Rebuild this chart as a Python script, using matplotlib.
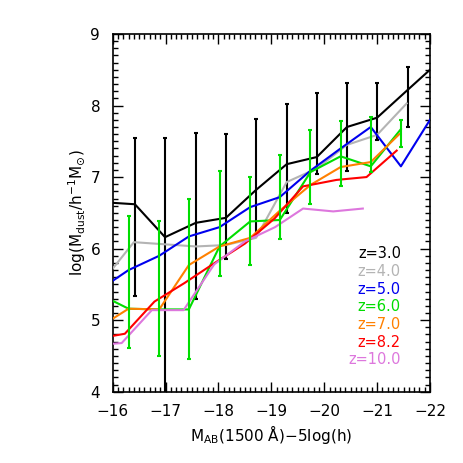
import matplotlib
matplotlib.use("Agg")
import matplotlib.pyplot as plt
import numpy as np
from matplotlib.ticker import MultipleLocator

plt.rcParams['font.family'] = ['DejaVu Sans']
plt.rcParams['mathtext.default'] = 'regular'

# z=3.0 (black) with error bars
x_z3 = [-16.0, -16.42, -16.99, -17.57, -18.14, -18.71, -19.29, -19.86, -20.43, -21.0, -21.58, -22.0]
y_z3 = [6.64, 6.62, 6.16, 6.36, 6.43, 6.82, 7.18, 7.28, 7.70, 7.83, 8.22, 8.50]
err_x_z3 = [-16.42, -16.99, -17.57, -18.14, -18.71, -19.29, -19.86, -20.43, -21.0, -21.58]
err_lo_z3 = [5.34, 3.00, 5.30, 5.85, 6.17, 6.50, 7.04, 7.09, 7.52, 7.70]
err_hi_z3 = [7.54, 7.55, 7.61, 7.60, 7.81, 8.02, 8.17, 8.31, 8.31, 8.54]

# z=4.0 (grey)
x_z4 = [-16.0, -16.40, -16.99, -17.57, -18.14, -18.71, -19.29, -19.86, -20.43, -21.0, -21.56]
y_z4 = [5.72, 6.09, 6.06, 6.03, 6.05, 6.15, 6.93, 7.12, 7.45, 7.59, 8.03]

# z=5.0 (blue)
x_z5 = [-16.0, -16.30, -16.88, -17.44, -18.02, -18.60, -19.16, -19.74, -20.31, -20.88, -21.45, -22.0]
y_z5 = [5.55, 5.70, 5.90, 6.17, 6.30, 6.58, 6.72, 7.09, 7.40, 7.70, 7.15, 7.80]

# z=6.0 (green) with error bars
x_z6 = [-16.0, -16.30, -16.88, -17.44, -18.02, -18.60, -19.16, -19.74, -20.31, -20.88, -21.45]
y_z6 = [5.27, 5.16, 5.15, 5.15, 6.03, 6.38, 6.40, 7.07, 7.29, 7.15, 7.67]
err_x_z6 = [-16.30, -16.88, -17.44, -18.02, -18.60, -19.16, -19.74, -20.31, -20.88, -21.45]
err_lo_z6 = [4.61, 4.50, 4.46, 5.62, 5.77, 6.13, 6.62, 6.87, 7.07, 7.42]
err_hi_z6 = [6.46, 6.39, 6.69, 7.09, 7.00, 7.31, 7.66, 7.78, 7.84, 7.80]

# z=7.0 (orange)
x_z7 = [-16.0, -16.30, -16.88, -17.44, -18.02, -18.60, -19.16, -19.74, -20.31, -20.88, -21.42]
y_z7 = [5.02, 5.16, 5.15, 5.77, 6.03, 6.15, 6.53, 6.89, 7.14, 7.21, 7.60]

# z=8.2 (red)
x_z8 = [-16.0, -16.23, -16.79, -17.36, -17.93, -18.50, -19.06, -19.60, -20.23, -20.80, -21.37]
y_z8 = [4.78, 4.81, 5.26, 5.52, 5.80, 6.07, 6.42, 6.87, 6.96, 7.00, 7.37]

# z=10.0 (violet)
x_z10 = [-16.0, -16.17, -16.74, -17.34, -17.92, -18.50, -19.07, -19.60, -20.17, -20.73]
y_z10 = [4.67, 4.68, 5.14, 5.14, 5.78, 6.10, 6.30, 6.56, 6.52, 6.56]

labels = ['z=3.0', 'z=4.0', 'z=5.0', 'z=6.0', 'z=7.0', 'z=8.2', 'z=10.0']
colors = ['black', '#b4b4b4', '#0000ee', '#00dd00', '#ff8000', '#ff0000', '#dd77dd']

fig = plt.figure(figsize=(4.63, 4.63), dpi=100)
ax = fig.add_axes([0.2434, 0.154, 0.6853, 0.7726])

series = [(x_z3, y_z3), (x_z4, y_z4), (x_z5, y_z5), (x_z6, y_z6),
          (x_z7, y_z7), (x_z8, y_z8), (x_z10, y_z10)]
for (xs, ys), c in zip(series, colors):
    ax.plot(xs, ys, color=c, lw=1.5, zorder=3)

# asymmetric error bars
y_at3 = [y_z3[x_z3.index(v)] for v in err_x_z3]
ax.errorbar(err_x_z3, y_at3,
            yerr=[np.array(y_at3) - np.array(err_lo_z3), np.array(err_hi_z3) - np.array(y_at3)],
            fmt='none', ecolor='black', elinewidth=1.5, capsize=1.5, capthick=1.5, zorder=2)
y_at6 = [y_z6[x_z6.index(v)] for v in err_x_z6]
ax.errorbar(err_x_z6, y_at6,
            yerr=[np.array(y_at6) - np.array(err_lo_z6), np.array(err_hi_z6) - np.array(y_at6)],
            fmt='none', ecolor='#00dd00', elinewidth=1.5, capsize=1.5, capthick=1.5, zorder=4)

# redshift labels
for i, (lab, c) in enumerate(zip(labels, colors)):
    ax.text(-21.45, 5.93 - 0.2475 * i, lab, color=c, ha='right', va='center', fontsize=10.5)

ax.set_xlim(-16, -22)
ax.set_ylim(4, 9)
ax.xaxis.set_major_locator(MultipleLocator(1))
ax.xaxis.set_minor_locator(MultipleLocator(0.1))
ax.yaxis.set_major_locator(MultipleLocator(1))
ax.yaxis.set_minor_locator(MultipleLocator(0.1))
ax.tick_params(which='both', direction='in', top=True, right=True, width=1)
ax.tick_params(which='major', length=7, labelsize=11, pad=9)
ax.tick_params(which='minor', length=3.5)
for s in ax.spines.values():
    s.set_linewidth(1.2)

ax.set_xticks([-16, -17, -18, -19, -20, -21, -22])
ax.set_xticklabels(['\u221216', '\u221217', '\u221218', '\u221219', '\u221220', '\u221221', '\u221222'])
ax.set_yticks([4, 5, 6, 7, 8, 9])

ax.set_xlabel('M$_{AB}$(1500 \u00c5)\u22125log(h)', fontsize=11, labelpad=3)
ax.set_ylabel('log(M$_{dust}$/h$^{-1}$M$_{\\odot}$)', fontsize=11, labelpad=2)

fig.savefig('out.png', dpi=100)
